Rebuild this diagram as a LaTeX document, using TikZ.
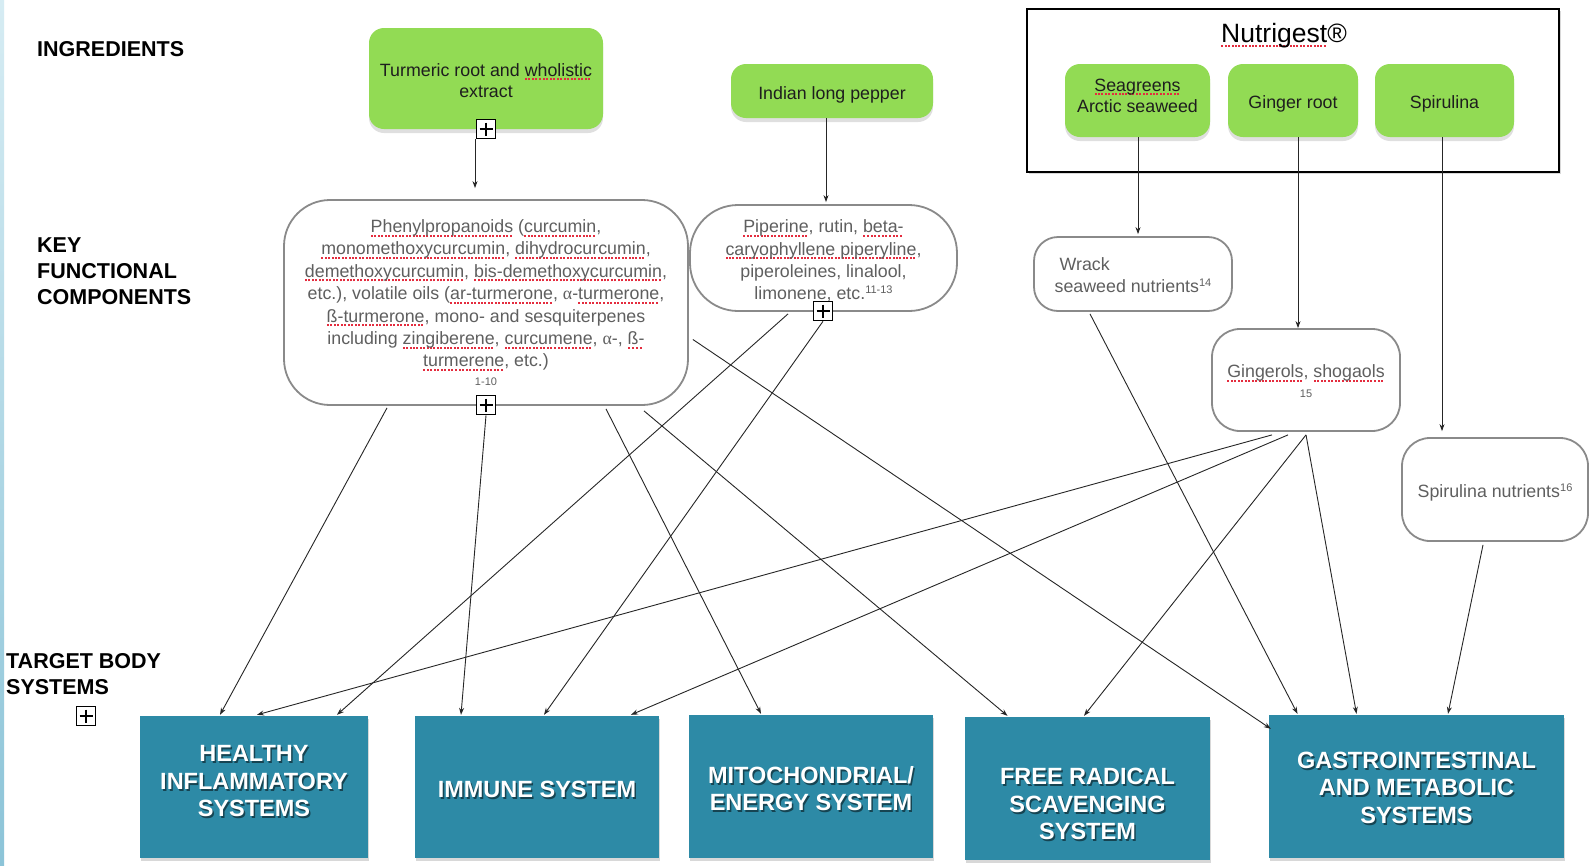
\documentclass[tikz,border=0pt]{standalone}
\usepackage{fontspec}
\setmainfont{Liberation Sans}
\newfontfamily\grk{Liberation Serif}
\usetikzlibrary{arrows.meta,shadows}
\definecolor{leaf}{RGB}{146,219,84}
\definecolor{tealbox}{RGB}{45,138,166}
\definecolor{compgray}{RGB}{95,95,95}
\definecolor{boxline}{RGB}{138,138,138}
\definecolor{ink}{RGB}{30,30,30}
\definecolor{squig}{RGB}{228,44,62}
\definecolor{stripA}{RGB}{214,236,243}
\definecolor{stripB}{RGB}{140,196,216}
\newcommand\fsz[2]{\fontsize{#1}{#2}\selectfont}
\newsavebox\sqbox
\newcommand\sq[1]{\leavevmode\sbox\sqbox{#1}\rlap{\raisebox{-4pt}{\textcolor{squig}{\hbox to \wd\sqbox{\xleaders\hbox{\rule{2pt}{2pt}\kern1.4pt}\hfill}}}}\usebox\sqbox}
\newcommand\al{{\grk α}}
\newcommand\strutH[1]{\rule{0pt}{#1}}
\begin{document}
\begin{tikzpicture}[x=1pt,y=-1pt,
  ingr/.style={rectangle, rounded corners=15pt, fill=leaf, text=ink, font=\fsz{17.8}{21.5}, align=center, inner sep=0pt,
    drop shadow={shadow xshift=0pt, shadow yshift=-4pt, opacity=0.25}},
  comp/.style={rectangle, draw=boxline, line width=1.8pt, fill=white, text=compgray, font=\fsz{17.8}{22.4}, align=center, inner sep=0pt},
  sysbox/.style={rectangle, fill=tealbox, inner sep=0pt, drop shadow={shadow xshift=1pt, shadow yshift=-3pt, opacity=0.3}},
  systxt/.style={text=white, font=\bfseries\fsz{23.5}{27.5}, align=center, inner sep=0pt},
  sysshd/.style={text=black, text opacity=0.5, font=\bfseries\fsz{23.5}{27.5}, align=center, inner sep=0pt, xshift=1.5pt, yshift=-2pt},
  lbl/.style={font=\bfseries\fsz{21.5}{25.8}, align=left, anchor=west, inner sep=0pt, text=black},
  conn/.style={draw=black!85, line width=0.9pt, -{Stealth[length=7pt,width=5pt]}},
  plusbox/.style={rectangle, draw=black, line width=1.6pt, fill=white, minimum size=19pt, inner sep=0pt,
    path picture={\draw[line width=1.4pt] ([yshift=-3pt]path picture bounding box.north) -- ([yshift=3pt]path picture bounding box.south)
      ([xshift=3pt]path picture bounding box.west) -- ([xshift=-3pt]path picture bounding box.east);}}
]
\useasboundingbox (0,0) rectangle (1595,865);
\fill[white] (0,0) rectangle (1595,865);
\shade[top color=stripA, bottom color=stripB] (0,0) rectangle (4,865);

% row labels
\node[lbl] (labingr) at (37,49) {INGREDIENTS};
\node[lbl] (labkey) at (37,271) {KEY\\FUNCTIONAL\\COMPONENTS};
\node[lbl] (labtgt) at (6,674) {TARGET BODY\\SYSTEMS};
\node[plusbox] (p4) at (86,716) {};

% Nutrigest frame
\node[draw=black, line width=2.2pt, fill=white, minimum width=532pt, minimum height=163pt, inner sep=0pt,
  drop shadow={shadow xshift=2pt, shadow yshift=-2pt, opacity=0.3}] (nutri) at (1293,90.5) {};
\node[font=\fsz{26.5}{30}, text=black, inner sep=0pt] (nutrit) at (1284,36) {\sq{Nutrigest}®};

% ingredients
\node[ingr, minimum width=234pt, minimum height=101pt] (turm) at (486,78.5) {\strutH{17pt}Turmeric root and \sq{wholistic}\\extract};
\node[ingr, minimum width=202pt, minimum height=54pt] (pepper) at (832,91) {\strutH{21pt}Indian long pepper};
\node[ingr, minimum width=145pt, minimum height=73pt] (sea) at (1137.5,100.5) {\sq{Seagreens}\\Arctic seaweed\\[-12pt]};
\node[ingr, minimum width=130pt, minimum height=73pt] (ginger) at (1293,100.5) {\strutH{19pt}Ginger root};
\node[ingr, minimum width=139pt, minimum height=73pt] (spir) at (1444.5,100.5) {\strutH{19pt}Spirulina};

% key functional components
\node[comp, rounded corners=46pt, minimum width=404pt, minimum height=205pt] (phen) at (486,302.5)
 {\sq{Phenylpropanoids} (\sq{curcumin},\\
  \sq{monomethoxycurcumin}, \sq{dihydrocurcumin},\\
  \sq{demethoxycurcumin}, \sq{bis-demethoxycurcumin},\\
  etc.), volatile oils (\sq{ar-turmerone}, \al-\sq{turmerone},\\
  \sq{ß-turmerone}, mono- and sesquiterpenes\\
  including \sq{zingiberene}, \sq{curcumene}, \al-, \sq{ß-}\\
  \sq{turmerene}, etc.)\\[-4pt]
  {\fsz{11}{12}1-10}};
\node[comp, rounded corners=48pt, minimum width=267pt, minimum height=106pt] (piper) at (823.5,258)
 {\strutH{19pt}\sq{Piperine}, rutin, \sq{beta-}\\
  \sq{caryophyllene piperyline},\\
  piperoleines, linalool,\\
  limonene, etc.{\fsz{11}{12}\raisebox{6pt}{11-13}}};
\node[comp, rounded corners=24pt, minimum width=198pt, minimum height=74pt, align=left] (wrack) at (1133,274)
 {\strutH{15pt}\hspace*{5pt}Wrack\\seaweed nutrients{\fsz{11}{12}\raisebox{6pt}{14}}};
\node[comp, rounded corners=28pt, minimum width=188pt, minimum height=102pt] (ging) at (1306,380)
 {\strutH{15pt}\sq{Gingerols}, \sq{shogaols}\\[-3pt]{\fsz{11}{12}15}};
\node[comp, rounded corners=28pt, minimum width=186pt, minimum height=103pt] (spnut) at (1495,489.5)
 {\strutH{19.5pt}Spirulina nutrients{\fsz{11}{12}\raisebox{6pt}{16}}};

% plus boxes
\node[plusbox] (p1) at (486,129) {};
\node[plusbox] (p2) at (486,405) {};
\node[plusbox] (p3) at (823,311) {};

% target body systems
\node[sysbox, minimum width=228pt, minimum height=142pt] (hi) at (254,787) {};
\node[sysshd] (his) at ([yshift=5.5pt]hi.center) {HEALTHY\\INFLAMMATORY\\SYSTEMS};
\node[systxt] (hit) at ([yshift=5.5pt]hi.center) {HEALTHY\\INFLAMMATORY\\SYSTEMS};

\node[sysbox, minimum width=244pt, minimum height=142pt] (imm) at (537,787) {};
\node[sysshd] (imms) at ([yshift=-2pt]imm.center) {IMMUNE SYSTEM};
\node[systxt] (immt) at ([yshift=-2pt]imm.center) {IMMUNE SYSTEM};

\node[sysbox, minimum width=244pt, minimum height=143pt] (mito) at (811,786.5) {};
\node[sysshd] (mitos) at ([yshift=-2pt]mito.center) {MITOCHONDRIAL/\\ENERGY SYSTEM};
\node[systxt] (mitot) at ([yshift=-2pt]mito.center) {MITOCHONDRIAL/\\ENERGY SYSTEM};

\node[sysbox, minimum width=245pt, minimum height=143pt] (frs) at (1087.5,788.5) {};
\node[sysshd] (frss) at ([yshift=-15.5pt]frs.center) {FREE RADICAL\\SCAVENGING\\SYSTEM};
\node[systxt] (frst) at ([yshift=-15.5pt]frs.center) {FREE RADICAL\\SCAVENGING\\SYSTEM};

\node[sysbox, minimum width=295pt, minimum height=143pt] (gas) at (1416.5,786.5) {};
\node[sysshd] (gass) at ([yshift=-1pt]gas.center) {GASTROINTESTINAL\\AND METABOLIC\\SYSTEMS};
\node[systxt] (gast) at ([yshift=-1pt]gas.center) {GASTROINTESTINAL\\AND METABOLIC\\SYSTEMS};

% ingredient -> component
\draw[conn] ([xshift=-11pt]p1.south) -- ([xshift=-11pt,yshift=11pt]phen.north);
\draw[conn] ([xshift=-6pt]pepper.south) -- ([xshift=2.5pt,yshift=2pt]piper.north);
\draw[conn] ([xshift=0.5pt]sea.south) -- ([xshift=5pt,yshift=2pt]wrack.north);
\draw[conn] ([xshift=5pt]ginger.south) -- ([xshift=-8pt]ging.north);
\draw[conn] ([xshift=-2.5pt]spir.south) -- ([xshift=-53pt,yshift=6pt]spnut.north);

% component -> system
\draw[conn] ([xshift=-99pt,yshift=-2pt]phen.south) -- ([xshift=-34pt,yshift=1pt]hi.north);
\draw[conn] (p2.south) -- ([xshift=-76pt,yshift=1pt]imm.north);
\draw[conn] ([xshift=120pt,yshift=-3pt]phen.south) -- ([xshift=-50pt,yshift=1pt]mito.north);
\draw[conn] ([xshift=158pt,yshift=-5pt]phen.south) -- ([xshift=-80pt,yshift=1pt]frs.north);
\draw[conn] ([xshift=4pt,yshift=-37pt]phen.east) -- ([xshift=2pt,yshift=-14pt]gas.north west);
\draw[conn] ([xshift=-35.5pt,yshift=-2pt]piper.south) -- ([xshift=83pt,yshift=1pt]hi.north);
\draw[conn] (p3.south) -- ([xshift=7pt,yshift=1pt]imm.north);
\draw[conn] ([xshift=-43pt,yshift=-2pt]wrack.south) -- ([xshift=-119pt,yshift=1pt]gas.north);
\draw[conn] ([xshift=-34pt,yshift=-3pt]ging.south) -- ([xshift=3pt,yshift=1pt]hi.north);
\draw[conn] ([xshift=-18pt,yshift=-3pt]ging.south) -- ([xshift=94pt,yshift=1pt]imm.north);
\draw[conn] ([yshift=-3pt]ging.south) -- ([xshift=-3.5pt,yshift=1pt]frs.north);
\draw[conn] ([yshift=-3pt]ging.south) -- ([xshift=-60pt,yshift=1pt]gas.north);
\draw[conn] ([xshift=-12pt,yshift=-3pt]spnut.south) -- ([xshift=31.5pt,yshift=1pt]gas.north);
\end{tikzpicture}
\end{document}
